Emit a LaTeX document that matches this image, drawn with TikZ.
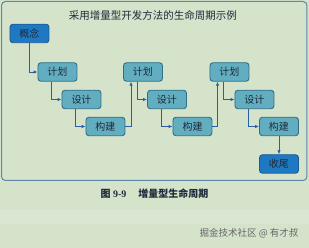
\documentclass[tikz,border=0pt]{standalone}
\usepackage{fontspec}
\setmainfont{Liberation Serif}
\newfontfamily\cjk{Noto Sans CJK SC}
\usetikzlibrary{arrows.meta}
\definecolor{bgc}{HTML}{D6E3CB}
\definecolor{framec}{HTML}{5F87A8}
\definecolor{boxfill}{HTML}{62AEC0}
\definecolor{boxedge}{HTML}{2F6E88}
\definecolor{darkfill}{HTML}{1F79C2}
\definecolor{darkedge}{HTML}{1B5C94}
\definecolor{linec}{HTML}{2A5FA8}
\definecolor{txt}{HTML}{1F2A3A}
\tikzset{
  stagebox/.style={draw=boxedge, line width=0.9pt, fill=boxfill, rounded corners=3pt,
    minimum width=39pt, minimum height=18.5pt, inner sep=0pt, font=\cjk\fontsize{10}{10}\selectfont, text=txt},
  endbox/.style={stagebox, fill=darkfill, draw=darkedge},
  flow/.style={draw=linec, line width=0.8pt, -{Latex[length=4pt,width=3.5pt]}}
}
\begin{document}
\begin{tikzpicture}[x=1pt,y=-1pt]
\fill[bgc] (0,0) rectangle (309,248);
\fill[white,opacity=0.12] (0,210) rectangle (309,224);
\useasboundingbox (0,0) rectangle (309,248);
\draw[framec, line width=1pt, rounded corners=4pt] (1.5,1.5) rectangle (307,180.5);
\node[font=\cjk\fontsize{10.5}{10.5}\selectfont, text=txt] (title) at (153,15) {采用增量型开发方法的生命周期示例};
\node[endbox] (gn) at (29.5,33.5) {概念};
\node[stagebox] (p1) at (57.5,72) {计划};
\node[stagebox] (d1) at (81.5,99.5) {设计};
\node[stagebox] (b1) at (105.5,126.5) {构建};
\node[stagebox] (p2) at (143,72) {计划};
\node[stagebox] (d2) at (167,99.5) {设计};
\node[stagebox] (b2) at (192.5,126.5) {构建};
\node[stagebox] (p3) at (229.5,72) {计划};
\node[stagebox] (d3) at (254.5,99.5) {设计};
\node[stagebox] (b3) at (279,126.5) {构建};
\node[endbox] (sw) at (279,164) {收尾};
\draw[flow] (gn.south) |- (p1.west);
\draw[flow] ([xshift=-6pt]p1.south) |- (d1.west);
\draw[flow] ([xshift=-6pt]d1.south) |- (b1.west);
\draw[flow] (b1.east) -| ([xshift=-12pt]p2.south);
\draw[flow] ([xshift=-6pt]p2.south) |- (d2.west);
\draw[flow] ([xshift=-6pt]d2.south) |- (b2.west);
\draw[flow] (b2.east) -| ([xshift=-12pt]p3.south);
\draw[flow] ([xshift=-6pt]p3.south) |- (d3.west);
\draw[flow] ([xshift=-6pt]d3.south) |- (b3.west);
\draw[flow] (b3.south) -- (sw.north);
\node[font=\fontsize{10}{10}\selectfont\bfseries, text=txt] (cap) at (154.5,194) {{\cjk 图} 9-9\hspace{12pt}{\cjk 增量型生命周期}};
\node[font=\cjk\fontsize{9.5}{9.5}\selectfont, text=gray!80!black, anchor=east] (wm) at (302,233) {掘金技术社区 @ 有才叔};
\end{tikzpicture}
\end{document}
